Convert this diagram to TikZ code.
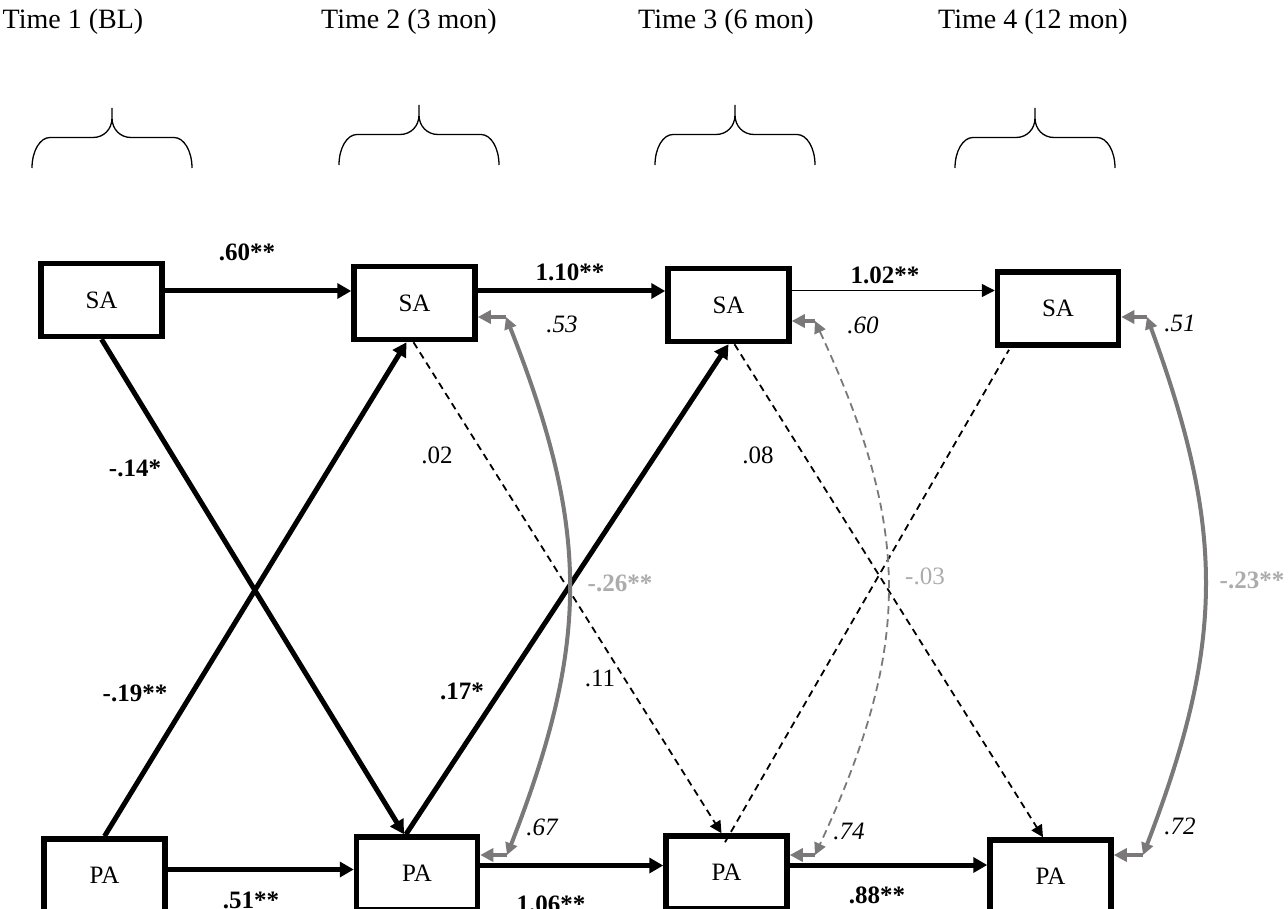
\documentclass[tikz,border=0pt]{standalone}
\usepackage{fontspec}
\setmainfont{Liberation Serif}
\usetikzlibrary{arrows.meta}
\definecolor{covline}{RGB}{122,120,120}
\definecolor{covtext}{RGB}{172,172,172}
\begin{document}
\begin{tikzpicture}[x=1pt,y=-1pt,
  font=\fontsize{25}{30}\selectfont,
  var/.style={draw,line width=5.5pt,minimum width=121pt,minimum height=73pt,inner sep=0pt},
  boldpath/.style={line width=5pt,-{Triangle[length=14pt,width=15pt]}},
  thinpath/.style={line width=1.4pt,-{Triangle[length=13pt,width=13pt]}},
  nspath/.style={line width=1.8pt,dash pattern=on 7pt off 5pt,-{Triangle[length=12pt,width=12pt]}},
  nsline/.style={line width=1.8pt,dash pattern=on 7pt off 5pt},
  stub/.style={covline,line width=4pt,-{Triangle[length=13pt,width=13pt]}},
  cov/.style={covline,line width=4pt,{Triangle[length=12pt,width=12pt]}-{Triangle[length=12pt,width=12pt]}},
  covns/.style={covline,line width=1.8pt,dash pattern=on 8pt off 5pt,{Triangle[length=12pt,width=12pt]}-{Triangle[length=12pt,width=12pt]}},
  coef/.style={font=\fontsize{25}{30}\selectfont\bfseries,inner sep=0pt},
  nscoef/.style={inner sep=0pt},
  resvar/.style={font=\fontsize{25}{30}\selectfont\itshape,inner sep=0pt},
  covlab/.style={text=covtext,inner sep=0pt},
  header/.style={font=\fontsize{28}{33}\selectfont,inner sep=0pt},
  timebrace/.pic={
    \draw[line width=1.3pt] (-80,60) .. controls (-80,43) and (-72,29.5) .. (-62,29.5)
      -- (-19,29.5) .. controls (-8,29.5) and (0,21) .. (0,10) -- (0,0)
      -- (0,10) .. controls (0,21) and (8,29.5) .. (19,29.5)
      -- (62,29.5) .. controls (72,29.5) and (80,43) .. (80,60);
  }
]
\useasboundingbox (0,0) rectangle (1288,909);
\clip (0,0) rectangle (1288,909);

% time headers and braces
\node[header] (h1) at (73,22) {Time 1 (BL)};
\node[header] (h2) at (409,22) {Time 2 (3 mon)};
\node[header] (h3) at (726,22) {Time 3 (6 mon)};
\node[header] (h4) at (1033,22) {Time 4 (12 mon)};
\pic at (112,108) {timebrace};
\pic at (419,105) {timebrace};
\pic at (735,105) {timebrace};
\pic at (1035,108) {timebrace};

% observed variables
\node[var] (SA1) at (101.5,300) {SA};
\node[var] (SA2) at (414.5,303) {SA};
\node[var] (SA3) at (728.5,305) {SA};
\node[var] (SA4) at (1058,308.5) {SA};
\node[var] (PA1) at (104.5,875.5) {PA};
\node[var] (PA2) at (417,873.5) {PA};
\node[var] (PA3) at (726.5,872.5) {PA};
\node[var] (PA4) at (1050.5,876.5) {PA};

% autoregressive paths
\draw[boldpath] ([yshift=9pt]SA1.east) coordinate (s12) -- (SA2.west |- s12);
\draw[boldpath] ([yshift=12pt]SA2.east) coordinate (s23) -- (SA3.west |- s23);
\draw[thinpath] ([yshift=14.5pt]SA3.east) coordinate (s34) -- (SA4.west |- s34);
\draw[boldpath] ([yshift=6pt]PA1.east) coordinate (p12) -- (PA2.west |- p12);
\draw[boldpath] ([yshift=8pt]PA2.east) coordinate (p23) -- (PA3.west |- p23);
\draw[boldpath] ([yshift=7.5pt]PA3.east) coordinate (p34) -- (PA4.west |- p34);

% cross-lagged paths
\draw[boldpath] (SA1.south) -- ([xshift=-13pt]PA2.north);
\draw[boldpath] (PA1.north) -- ([xshift=-8pt]SA2.south);
\draw[boldpath] ([xshift=-11pt]PA2.north) -- (SA3.south);
\draw[nspath] ([xshift=-1pt]SA2.south) -- ([xshift=-5pt]PA3.north);
\draw[nspath] ([xshift=6pt]SA3.south) -- ([xshift=-7.5pt]PA4.north);
\draw[nsline] ([xshift=-1.5pt,yshift=-9pt]PA3.north) -- ([xshift=-49pt,yshift=-2pt]SA4.south);

% residual covariances
\coordinate (e2t) at (506,317);
\coordinate (e2b) at (507,855);
\coordinate (e3t) at (815,321);
\coordinate (e3b) at (815,855);
\coordinate (e4t) at (1147,317);
\coordinate (e4b) at (1143,855);
\draw[stub] (e2t) -- (SA2.east |- e2t);
\draw[stub] (e2b) -- (PA2.east |- e2b);
\draw[stub] (e3t) -- (SA3.east |- e3t);
\draw[stub] (e3b) -- (PA3.east |- e3b);
\draw[stub] (e4t) -- (SA4.east |- e4t);
\draw[stub] (e4b) -- (PA4.east |- e4b);
\draw[cov] (e2t) .. controls (590,530) and (590,642) .. (e2b);
\draw[covns] (e3t) .. controls (912,530) and (912,646) .. (e3b);
\draw[cov] (e4t) .. controls (1225,530) and (1225,642) .. (e4b);

% coefficients
\node[coef] (c1) at (247,252) {.60**};
\node[coef] (c2) at (570,272) {1.10**};
\node[coef] (c3) at (885,275) {1.02**};
\node[coef] (c4) at (251,900) {.51**};
\node[coef] (c5) at (551,904) {1.06**};
\node[coef] (c6) at (877,895) {.88**};
\node[coef] (c7) at (135,468) {-.14*};
\node[coef] (c8) at (135,693) {-.19**};
\node[coef] (c9) at (462,691) {.17*};
\node[nscoef] (c10) at (437,455) {.02};
\node[nscoef] (c11) at (758,455) {.08};
\node[nscoef] (c12) at (600,678) {.11};

% residual variances
\node[resvar] (r1) at (562,324) {.53};
\node[resvar] (r2) at (863,325) {.60};
\node[resvar] (r3) at (1180,323) {.51};
\node[resvar] (r4) at (542,827) {.67};
\node[resvar] (r5) at (849,831) {.74};
\node[resvar] (r6) at (1180,826) {.72};

% covariance estimates
\node[covlab,font=\fontsize{25}{30}\selectfont\bfseries] (k1) at (620,583) {-.26**};
\node[covlab] (k2) at (925,576) {-.03};
\node[covlab,font=\fontsize{25}{30}\selectfont\bfseries] (k3) at (1252,580) {-.23**};
\end{tikzpicture}
\end{document}
